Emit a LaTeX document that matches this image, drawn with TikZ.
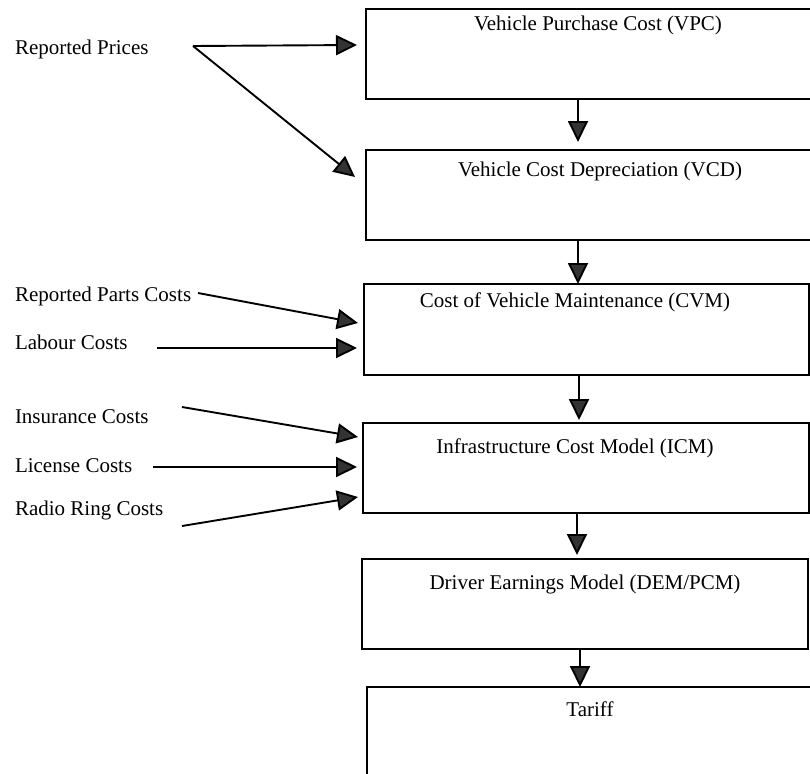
\documentclass[tikz,border=0pt]{standalone}
\usepackage{fontspec}
\setmainfont{Liberation Serif}
\usetikzlibrary{arrows.meta}
\definecolor{tipgray}{HTML}{333333}
\begin{document}
\begin{tikzpicture}[x=1pt,y=-1pt,
  every node/.style={font=\fontsize{21}{25}\selectfont, inner sep=0pt, outer sep=0pt},
  stage/.style={draw, line width=2pt, rectangle, anchor=north west, minimum height=90pt},
  title/.style={anchor=base},
  source/.style={anchor=base west},
  feed/.style={line width=1.9pt, -{Triangle[length=21pt,width=20pt,fill=tipgray]}},
]
\useasboundingbox (0,0) rectangle (810,773);
\clip (0,0) rectangle (810,773);

% model stages
\node[stage, minimum width=480pt] (vpc) at (366,9) {};
\node[stage, minimum width=480pt] (vcd) at (366,150) {};
\node[stage, minimum width=445pt, minimum height=91pt] (cvm) at (364,284) {};
\node[stage, minimum width=446pt] (icm) at (363,423) {};
\node[stage, minimum width=446pt] (dem) at (362,559) {};
\node[stage, minimum width=480pt, minimum height=120pt] (tar) at (367,687) {};

\node[title] (vpc-t) at (598,31) {Vehicle Purchase Cost (VPC)};
\node[title] (vcd-t) at (600,176) {Vehicle Cost Depreciation (VCD)};
\node[title] (cvm-t) at (575,307) {Cost of Vehicle Maintenance (CVM)};
\node[title] (icm-t) at (575,453) {Infrastructure Cost Model (ICM)};
\node[title] (dem-t) at (585,589) {Driver Earnings Model (DEM/PCM)};
\node[title] (tar-t) at (590,716) {Tariff};

% cost inputs
\node[source] (rp)  at (15,55)  {Reported Prices};
\node[source] (rpc) at (15,301) {Reported Parts Costs};
\node[source] (lab) at (15,349) {Labour Costs};
\node[source] (ins) at (15,423) {Insurance Costs};
\node[source] (lic) at (15,472) {License Costs};
\node[source] (rad) at (15,515) {Radio Ring Costs};

% connector ends
\coordinate (rp-o)  at (193,46);
\coordinate (rpc-o) at (198,293);
\coordinate (lab-o) at (157,348);
\coordinate (ins-o) at (182,407);
\coordinate (lic-o) at (153,467);
\coordinate (rad-o) at (182,526);

\coordinate (vpc-a) at (357,45);
\coordinate (vcd-a) at (355,177);
\coordinate (cvm-a) at (358,323);
\coordinate (cvm-b) at (357,348);
\coordinate (icm-a) at (358,437);
\coordinate (icm-b) at (357,467);
\coordinate (icm-c) at (358,497);

\coordinate (vcd-n) at (578,142);
\coordinate (cvm-n) at (578,284);
\coordinate (icm-n) at (579,420);
\coordinate (dem-n) at (577,555);
\coordinate (tar-n) at (580,687);

% input arrows
\draw[feed] (rp-o) -- (vpc-a);
\draw[feed] (rp-o) -- (vcd-a);
\draw[feed] (rpc-o) -- (cvm-a);
\draw[feed] (lab-o) -- (cvm-b);
\draw[feed] (ins-o) -- (icm-a);
\draw[feed] (lic-o) -- (icm-b);
\draw[feed] (rad-o) -- (icm-c);

% flow between stages
\draw[feed] (vpc.south -| vcd-n) -- (vcd-n);
\draw[feed] (vcd.south -| cvm-n) -- (cvm-n);
\draw[feed] (cvm.south -| icm-n) -- (icm-n);
\draw[feed] (icm.south -| dem-n) -- (dem-n);
\draw[feed] (dem.south -| tar-n) -- (tar-n);
\end{tikzpicture}
\end{document}
